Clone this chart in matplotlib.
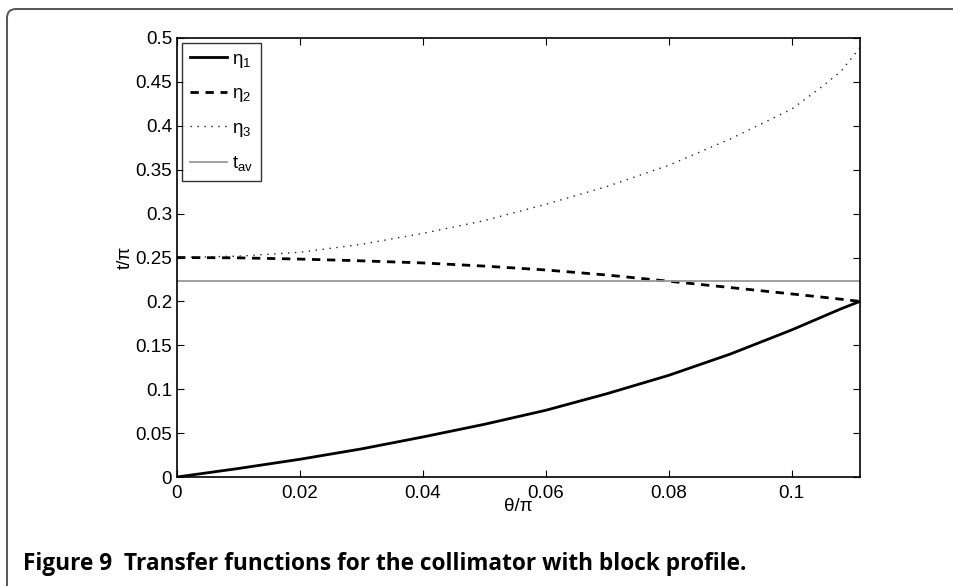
import matplotlib
matplotlib.use("Agg")
import matplotlib.pyplot as plt
from matplotlib.patches import FancyBboxPatch

# ---- data ----
theta = [0, 0.01, 0.02, 0.03, 0.04, 0.05, 0.06, 0.07, 0.08, 0.09, 0.10, 0.105, 0.108, 0.1111]
eta1 = [0, 0.0097, 0.0202, 0.032, 0.0456, 0.060, 0.076, 0.095, 0.1158, 0.1400, 0.1675, 0.1825, 0.1915, 0.200]
eta2 = [0.25, 0.2496, 0.2482, 0.2462, 0.2438, 0.2402, 0.2358, 0.2300, 0.2230, 0.2158, 0.2085, 0.2048, 0.2025, 0.2000]
eta3 = [0.25, 0.2515, 0.256, 0.265, 0.2775, 0.292, 0.3106, 0.331, 0.355, 0.385, 0.419, 0.445, 0.462, 0.489]
t_av = 0.223
xticks = [0, 0.02, 0.04, 0.06, 0.08, 0.1]
xticklabels = ["0", "0.02", "0.04", "0.06", "0.08", "0.1"]
yticks = [0, 0.05, 0.1, 0.15, 0.2, 0.25, 0.3, 0.35, 0.4, 0.45, 0.5]
yticklabels = ["0", "0.05", "0.1", "0.15", "0.2", "0.25", "0.3", "0.35", "0.4", "0.45", "0.5"]
labels = ["η$_{\\mathrm{1}}$", "η$_{\\mathrm{2}}$", "η$_{\\mathrm{3}}$", "t$_{\\mathrm{av}}$"]
caption_bold = "Figure 9  Transfer functions for the collimator with block profile."

plt.rcParams["font.family"] = ["Liberation Sans", "DejaVu Sans"]
plt.rcParams["mathtext.fontset"] = "custom"
plt.rcParams["mathtext.rm"] = "Liberation Sans"
plt.rcParams["mathtext.it"] = "Liberation Sans:italic"
plt.rcParams["mathtext.bf"] = "Liberation Sans:bold"

FS = 13.5
W, H = 954, 586
fig = plt.figure(figsize=(W / 100, H / 100), dpi=100)
ax = fig.add_axes([177 / W, (H - 477) / H, 683 / W, 439 / H])

ax.plot(theta, eta1, color="black", lw=2.0, label=labels[0])
ax.plot(theta, eta2, color="black", lw=2.0, dashes=(3, 2.4), label=labels[1])
ax.plot(theta, eta3, color="#222222", lw=1.0, dashes=(1, 4), label=labels[2])
ax.axhline(t_av, color="#9a9a9a", lw=1.3, label=labels[3])

ax.set_xlim(0, 1 / 9)
ax.set_ylim(0, 0.5)
ax.set_xticks(xticks)
ax.set_xticklabels(xticklabels)
ax.set_yticks(yticks)
ax.set_yticklabels(yticklabels)
ax.tick_params(direction="in", length=5, width=0.8, top=True, right=True,
               labelsize=FS, pad=3.5, colors="black")
ax.tick_params(axis="x", pad=6)
for s in ax.spines.values():
    s.set_linewidth(1.2)
ax.set_xlabel("θ/π", fontsize=FS, labelpad=-3)
ax.set_ylabel("t/π", fontsize=FS, labelpad=1)

leg = ax.legend(loc="upper left", fontsize=FS, frameon=True, fancybox=False,
                edgecolor="black", handlelength=2.0, handletextpad=0.25,
                labelspacing=0.82, borderaxespad=0.25, borderpad=0.42)
leg.get_frame().set_linewidth(1.0)

cap = fig.text(23 / W, (H - 570) / H, caption_bold, fontsize=14, fontweight="bold",
               family=["Open Sans", "DejaVu Sans"], ha="left", va="baseline")
# fit caption width to the reference span (23 px .. 748 px)
fig.canvas.draw()
bb = cap.get_window_extent()
cap.set_fontsize(14 * 725 / bb.width)

frame = FancyBboxPatch((7, -60), 1100, (H - 9) + 60,
                       boxstyle="round,pad=0,rounding_size=9",
                       transform=None, fill=False, edgecolor="#555555", lw=1.4,
                       clip_on=False)
fig.add_artist(frame)

fig.savefig("out.png", dpi=100)
